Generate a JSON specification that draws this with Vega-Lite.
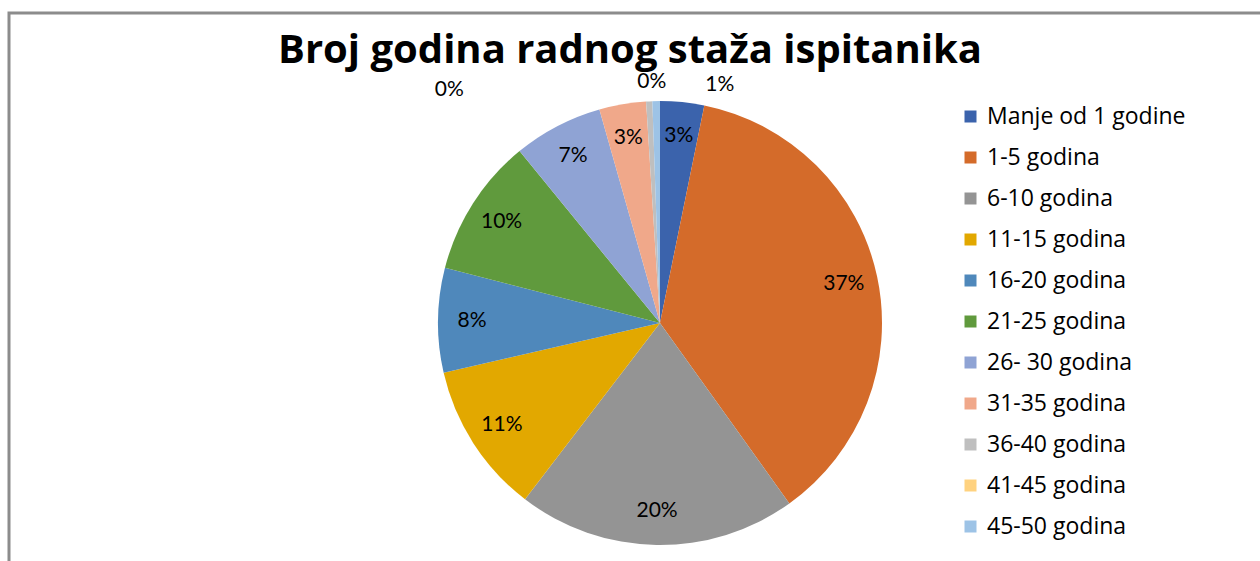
{
  "$schema": "https://vega.github.io/schema/vega-lite/v6.json",
  "width": 1302,
  "height": 620,
  "autosize": {"type": "none"},
  "padding": {"left": 9, "top": 13, "right": 0, "bottom": 0},
  "background": "white",
  "view": {"stroke": "#8c8c8c", "strokeWidth": 3, "fill": "white"},
  "config": {
    "view": {"stroke": "#8c8c8c", "strokeWidth": 3},
    "font": "Lato"
  },
  "title": {
    "text": "Broj godina radnog staža ispitanika",
    "fontSize": 40,
    "font": "Open Sans",
    "fontWeight": "bold",
    "color": "#000000",
    "anchor": "middle",
    "frame": "group",
    "offset": -58,
    "dx": -30
  },
  "data": {
    "values": [
      {"idx": 1, "cat": "Manje od 1 godine", "pct": 3.2, "label": "3%", "inLabel": "3%"},
      {"idx": 2, "cat": "1-5 godina", "pct": 36.9, "label": "37%", "inLabel": "37%"},
      {"idx": 3, "cat": "6-10 godina", "pct": 20.3, "label": "20%", "inLabel": "20%"},
      {"idx": 4, "cat": "11-15 godina", "pct": 11.0, "label": "11%", "inLabel": "11%"},
      {"idx": 5, "cat": "16-20 godina", "pct": 7.6, "label": "8%", "inLabel": "8%"},
      {"idx": 6, "cat": "21-25 godina", "pct": 10.1, "label": "10%", "inLabel": "10%"},
      {"idx": 7, "cat": "26- 30 godina", "pct": 6.5, "label": "7%", "inLabel": "7%"},
      {"idx": 8, "cat": "31-35 godina", "pct": 3.4, "label": "3%", "inLabel": "3%"},
      {"idx": 9, "cat": "36-40 godina", "pct": 0.45, "label": "0%", "inLabel": ""},
      {"idx": 10, "cat": "41-45 godina", "pct": 0, "label": "0%", "inLabel": ""},
      {"idx": 11, "cat": "45-50 godina", "pct": 0.55, "label": "1%", "inLabel": ""}
    ]
  },
  "encoding": {
    "theta": {"field": "pct", "type": "quantitative", "stack": true},
    "order": {"field": "idx", "type": "quantitative"}
  },
  "layer": [
    {
      "mark": {"type": "arc", "outerRadius": 222},
      "encoding": {
        "color": {
          "field": "cat",
          "type": "nominal",
          "scale": {
            "domain": ["Manje od 1 godine", "1-5 godina", "6-10 godina", "11-15 godina", "16-20 godina", "21-25 godina", "26- 30 godina", "31-35 godina", "36-40 godina", "41-45 godina", "45-50 godina"],
            "range": ["#3b63ac", "#d46b2a", "#949494", "#e2a800", "#4f88bb", "#609a3d", "#8fa3d4", "#f0a88a", "#bfbfbf", "#ffd27f", "#9dc3e6"]
          },
          "legend": {
            "orient": "none",
            "legendX": 950,
            "legendY": 92,
            "title": null,
            "symbolType": "square",
            "symbolSize": 144,
            "symbolStrokeWidth": 0,
            "labelFontSize": 23,
            "labelFont": "Open Sans",
            "labelColor": "#000000",
            "labelLimit": 400,
            "labelOffset": 5,
            "rowPadding": 17,
            "padding": 0
          }
        }
      }
    },
    {
      "mark": {"type": "text", "radius": 188, "fontSize": 21, "font": "Lato", "color": "#000000"},
      "encoding": {"text": {"field": "inLabel", "type": "nominal"}}
    },
    {
      "mark": {"type": "text", "radius": 240, "fontSize": 21, "font": "Lato", "color": "#000000", "dx": -199, "dy": 7},
      "encoding": {"text": {"condition": {"test": "datum.cat === '36-40 godina'", "field": "label"}, "value": ""}}
    },
    {
      "mark": {"type": "text", "radius": 240, "fontSize": 21, "font": "Lato", "color": "#000000", "dx": 0, "dy": -1},
      "encoding": {"text": {"condition": {"test": "datum.cat === '41-45 godina'", "field": "label"}, "value": ""}}
    },
    {
      "mark": {"type": "text", "radius": 240, "fontSize": 21, "font": "Lato", "color": "#000000", "dx": 64, "dy": 2},
      "encoding": {"text": {"condition": {"test": "datum.cat === '45-50 godina'", "field": "label"}, "value": ""}}
    }
  ]
}
